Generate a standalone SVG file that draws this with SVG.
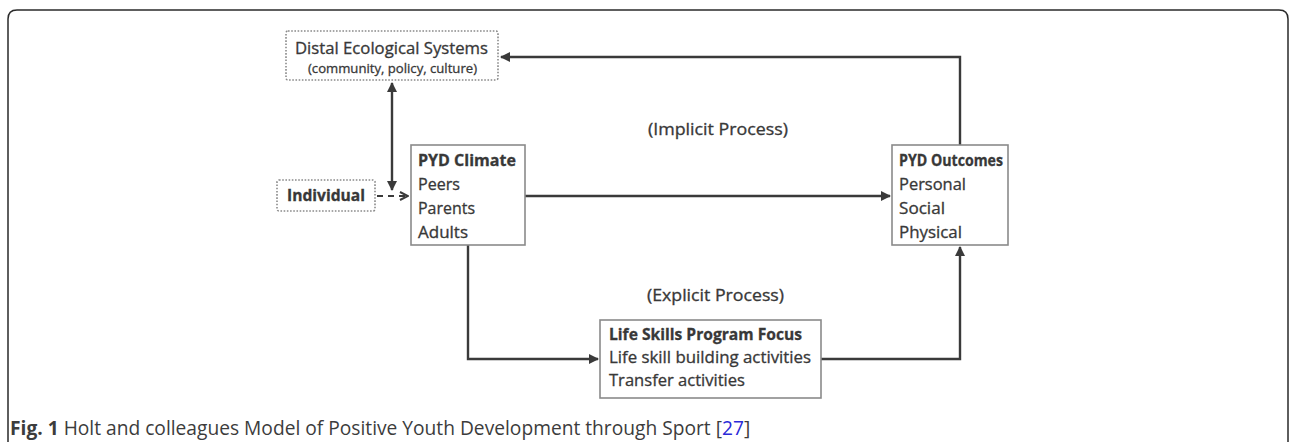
<svg xmlns="http://www.w3.org/2000/svg" width="1290" height="442" viewBox="0 0 1290 442">
  <style>
    .frame { fill: none; stroke: #2a2a2a; stroke-width: 1.5; }
    .box { fill: #ffffff; stroke: #8a8a8a; stroke-width: 1.6; }
    .dotted { fill: #ffffff; stroke: #8a8a8a; stroke-width: 1.6; stroke-dasharray: 1.6 1.6; }
    .wire { fill: none; stroke: #3a3a3a; stroke-width: 2.4; }
    .dash { fill: none; stroke: #3a3a3a; stroke-width: 2; stroke-dasharray: 6 5; }
    .t { font-family: "Open Sans", "Liberation Sans", sans-serif; font-size: 15.5px; fill: #383838; stroke: #383838; stroke-width: 0.3; }
    .b { font-weight: bold; }
    .small { font-size: 13px; }
    .cap { font-family: "Open Sans", "Liberation Sans", sans-serif; font-size: 19.2px; fill: #3c3c3c; }
  </style>
  <defs>
    <marker id="arrow" viewBox="0 0 10 10" refX="9" refY="5" markerWidth="4.2" markerHeight="4.2" orient="auto-start-reverse" markerUnits="strokeWidth">
      <path d="M0,0 L10,5 L0,10 z" fill="#3a3a3a"/>
    </marker>
    <marker id="open" viewBox="0 0 10 10" refX="9" refY="5" markerWidth="5" markerHeight="5" orient="auto" markerUnits="strokeWidth">
      <path d="M1,1 L9,5 L1,9" fill="none" stroke="#3a3a3a" stroke-width="2"/>
    </marker>
  </defs>

  <!-- figure panel border (open at the bottom) -->
  <path class="frame" d="M8,442 V19 Q8,10 17,10 H1279 Q1288,10 1288,19 V442"/>

  <!-- connectors -->
  <g id="connectors">
    <path class="wire" d="M960,145 V57 H501" marker-end="url(#arrow)"/>
    <path class="wire" d="M392,83 V190" marker-start="url(#arrow)" marker-end="url(#arrow)"/>
    <path class="dash" d="M377,196 H408" marker-end="url(#open)"/>
    <path class="wire" d="M525,196 H890" marker-end="url(#arrow)"/>
    <path class="wire" d="M468,245 V359 H598" marker-end="url(#arrow)"/>
    <path class="wire" d="M821,359 H960 V247" marker-end="url(#arrow)"/>
  </g>

  <!-- labels on the process paths -->
  <text class="t" x="648" y="135" textLength="140" lengthAdjust="spacingAndGlyphs">(Implicit Process)</text>
  <text class="t" x="647" y="301" textLength="137" lengthAdjust="spacingAndGlyphs">(Explicit Process)</text>

  <g id="distal">
    <rect class="dotted" x="286" y="31" width="212" height="49" rx="2"/>
    <text class="t" x="295" y="54" textLength="193" lengthAdjust="spacingAndGlyphs">Distal Ecological Systems</text>
    <text class="t small" x="308" y="73" textLength="169" lengthAdjust="spacingAndGlyphs">(community, policy, culture)</text>
  </g>

  <g id="individual">
    <rect class="dotted" x="277" y="180" width="98" height="31" rx="2"/>
    <text class="t b" x="287" y="201" textLength="78" lengthAdjust="spacingAndGlyphs">Individual</text>
  </g>

  <g id="climate">
    <rect class="box" x="411" y="145" width="114" height="100"/>
    <text class="t b" x="418" y="166" textLength="98" lengthAdjust="spacingAndGlyphs">PYD Climate</text>
    <text class="t" x="418" y="190" textLength="42" lengthAdjust="spacingAndGlyphs">Peers</text>
    <text class="t" x="418" y="214" textLength="57" lengthAdjust="spacingAndGlyphs">Parents</text>
    <text class="t" x="418" y="238" textLength="50" lengthAdjust="spacingAndGlyphs">Adults</text>
  </g>

  <g id="outcomes">
    <rect class="box" x="892" y="145" width="116" height="100"/>
    <text class="t b" x="899" y="166" textLength="104" lengthAdjust="spacingAndGlyphs">PYD Outcomes</text>
    <text class="t" x="899" y="190" textLength="67" lengthAdjust="spacingAndGlyphs">Personal</text>
    <text class="t" x="899" y="214" textLength="46" lengthAdjust="spacingAndGlyphs">Social</text>
    <text class="t" x="899" y="238" textLength="63" lengthAdjust="spacingAndGlyphs">Physical</text>
  </g>

  <g id="lifeskills">
    <rect class="box" x="600" y="320" width="221" height="78"/>
    <text class="t b" x="609" y="340" textLength="193" lengthAdjust="spacingAndGlyphs">Life Skills Program Focus</text>
    <text class="t" x="609" y="363" textLength="202" lengthAdjust="spacingAndGlyphs">Life skill building activities</text>
    <text class="t" x="609" y="386" textLength="136" lengthAdjust="spacingAndGlyphs">Transfer activities</text>
  </g>

  <!-- caption -->
  <text class="cap" x="10" y="435"><tspan font-weight="bold">Fig. 1</tspan> Holt and colleagues Model of Positive Youth Development through Sport [<tspan fill="#2a2ad8">27</tspan>]</text>
</svg>
